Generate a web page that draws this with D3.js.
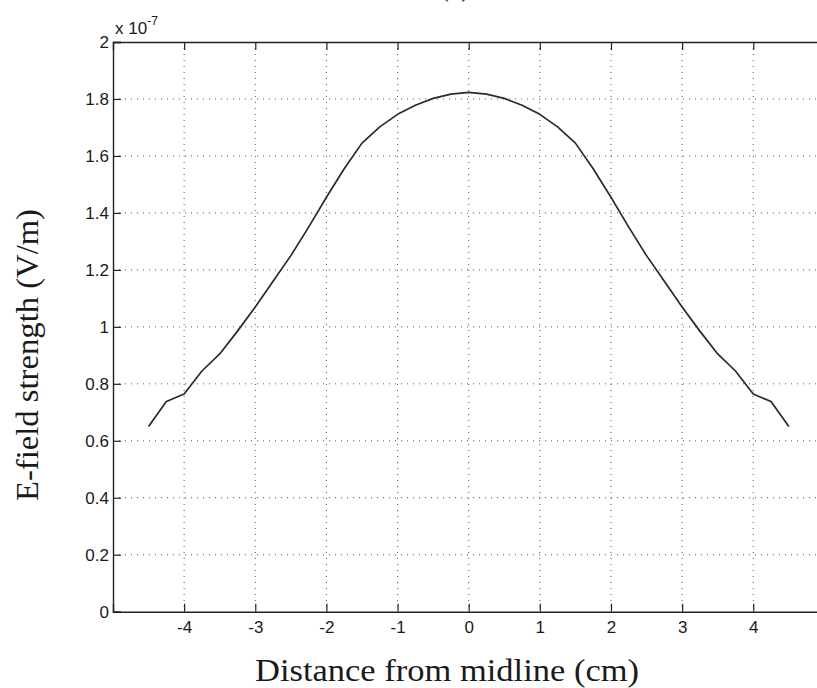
<!DOCTYPE html>
<html>
<head>
<meta charset="utf-8">
<script src="https://cdn.jsdelivr.net/npm/d3@7"></script>
<style>
  html, body { margin: 0; padding: 0; background: #fff; }
  svg { display: block; }
</style>
</head>
<body>
<svg id="chart" width="817" height="688"></svg>
<script>
// Distance from midline (cm)
const positions = [-4.5, -4.25, -4, -3.75, -3.5, -3.25, -3, -2.75, -2.5, -2.25, -2, -1.75, -1.5, -1.25, -1, -0.75, -0.5, -0.25, 0,
                   0.25, 0.5, 0.75, 1, 1.25, 1.5, 1.75, 2, 2.25, 2.5, 2.75, 3, 3.25, 3.5, 3.75, 4, 4.25, 4.5];
// E-field strength, in units of 1e-7 V/m
const fieldStrength = [0.650, 0.738, 0.764, 0.845, 0.905, 0.985, 1.070, 1.160, 1.250, 1.350, 1.455, 1.555, 1.645, 1.702, 1.746, 1.778, 1.802, 1.817, 1.823,
                       1.817, 1.802, 1.778, 1.746, 1.702, 1.645, 1.555, 1.455, 1.350, 1.250, 1.160, 1.070, 0.985, 0.905, 0.845, 0.764, 0.738, 0.650];
const xTicks = [-4, -3, -2, -1, 0, 1, 2, 3, 4];
const yTicks = [0, 0.2, 0.4, 0.6, 0.8, 1, 1.2, 1.4, 1.6, 1.8, 2];

const svg = d3.select("#chart");
const plotLeft = 113, plotRight = 824.4, plotTop = 42, plotBottom = 611.7;

const x = d3.scaleLinear().domain([-5, 5]).range([plotLeft, plotRight]);
const y = d3.scaleLinear().domain([0, 2]).range([plotBottom, plotTop]);

const tickFont = "'Liberation Sans', Arial, Helvetica, sans-serif";
const labelFont = "'Liberation Serif', 'Times New Roman', Times, serif";

// dotted grid
const grid = svg.append("g").attr("stroke", "#555").attr("stroke-width", 1).attr("stroke-dasharray", "1,5");
grid.selectAll("line.v").data(xTicks).join("line").attr("class", "v")
  .attr("x1", d => x(d)).attr("x2", d => x(d)).attr("y1", plotTop).attr("y2", plotBottom);
grid.selectAll("line.h").data(yTicks.filter(d => d > 0 && d < 2)).join("line").attr("class", "h")
  .attr("x1", plotLeft).attr("x2", plotRight).attr("y1", d => y(d)).attr("y2", d => y(d));

// axes with inward ticks; plain hyphen for negatives
const xAxisBottom = d3.axisBottom(x).tickValues(xTicks).tickSize(-8).tickPadding(9).tickFormat(d => String(d));
const xAxisTop = d3.axisTop(x).tickValues(xTicks).tickSize(-8).tickFormat("");
const yAxisLeft = d3.axisLeft(y).tickValues(yTicks).tickSize(-8).tickPadding(4)
  .tickFormat(d => (d === 0 || d === 1 || d === 2) ? String(d) : d3.format(".1f")(d));

function style(g) {
  g.select(".domain").attr("stroke", "#222").attr("stroke-width", 1.4);
  g.selectAll(".tick line").attr("stroke", "#222").attr("stroke-width", 1.2);
  g.selectAll(".tick text").attr("fill", "#1a1a1a").style("font-family", tickFont).style("font-size", "17px");
}

svg.append("g").attr("transform", `translate(0,${plotBottom})`).call(xAxisBottom).call(style);
svg.append("g").attr("transform", `translate(0,${plotTop})`).call(xAxisTop).call(style);
svg.append("g").attr("transform", `translate(${plotLeft},0)`).call(yAxisLeft).call(style);

// exponent marker
const expo = svg.append("text").attr("x", plotLeft + 2).attr("y", plotTop - 8)
  .style("font-family", tickFont).style("font-size", "17px").attr("fill", "#1a1a1a");
expo.append("tspan").text("x 10");
expo.append("tspan").attr("dy", -9).style("font-size", "12px").text("-7");

// curve
const line = d3.line().x((d, i) => x(positions[i])).y(d => y(d));
svg.append("path").datum(fieldStrength)
  .attr("d", line).attr("fill", "none").attr("stroke", "#2a2a2a").attr("stroke-width", 1.7)
  .attr("stroke-linejoin", "round");

// labels
svg.append("text").attr("x", 447).attr("y", 681).attr("text-anchor", "middle")
  .attr("textLength", 384).attr("lengthAdjust", "spacingAndGlyphs")
  .style("font-family", labelFont).style("font-size", "31px").attr("fill", "#1a1a1a")
  .text("Distance from midline (cm)");
svg.append("text").attr("transform", "translate(38,355) rotate(-90)").attr("text-anchor", "middle")
  .attr("textLength", 292).attr("lengthAdjust", "spacingAndGlyphs")
  .style("font-family", labelFont).style("font-size", "31px").attr("fill", "#1a1a1a")
  .text("E-field strength (V/m)");
svg.append("text").attr("x", 455).attr("y", -4).attr("text-anchor", "middle")
  .style("font-family", labelFont).style("font-size", "28px").attr("fill", "#222")
  .text("(a)");
</script>
</body>
</html>
